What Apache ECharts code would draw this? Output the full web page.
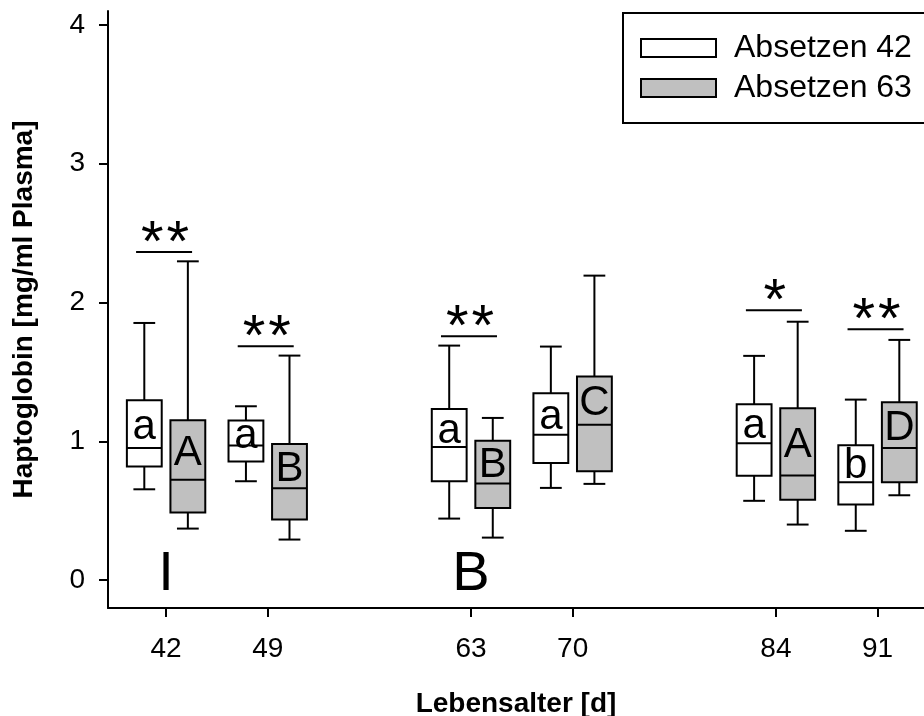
<!DOCTYPE html>
<html>
<head>
<meta charset="utf-8">
<script src="https://cdn.jsdelivr.net/npm/echarts@6/dist/echarts.min.js"></script>
<style>
html, body { margin: 0; padding: 0; background: #fff; }
#main { width: 924px; height: 716px; }
</style>
</head>
<body>
<div id="main"></div>
<script>
// Lebensalter in Tagen
var days = [42, 49, 63, 70, 84, 91];
// je Termin: [min, Q1, Median, Q3, max]
var absetzen42 = [
    [0.655, 0.819, 0.953, 1.296, 1.853],
    [0.713, 0.855, 0.970, 1.150, 1.253],
    [0.444, 0.713, 0.960, 1.234, 1.690],
    [0.665, 0.845, 1.047, 1.346, 1.683],
    [0.572, 0.752, 0.986, 1.267, 1.616],
    [0.356, 0.545, 0.706, 0.972, 1.301]
];
var absetzen63 = [
    [0.372, 0.487, 0.723, 1.152, 2.297],
    [0.293, 0.437, 0.662, 0.982, 1.618],
    [0.307, 0.521, 0.696, 1.004, 1.169],
    [0.694, 0.785, 1.119, 1.467, 2.194],
    [0.401, 0.579, 0.754, 1.238, 1.862],
    [0.612, 0.706, 0.953, 1.282, 1.731]
];
var letters42 = ['a', 'a', 'a', 'a', 'a', 'b'];
var letters63 = ['A', 'B', 'B', 'C', 'A', 'D'];
// Signifikanz zwischen den Gruppen (Anzahl Sterne)
var sigStars = [2, 2, 2, 0, 1, 2];
var sigLevel = [2.364, 1.685, 1.757, null, 1.944, 1.807];
// Phasen-Beschriftung unten
var phaseDays = [42, 63];
var phaseLabels = ['I', 'B'];
var phaseLevel = [0.04, 0.04];
var xTicks = [42, 49, 63, 70, 84, 91];
var yTicks = [0, 1, 2, 3, 4];

var FONT = '"Liberation Sans", Arial, Helvetica, sans-serif';
var SHIFT = 1.5;   // Versatz der Boxen in Tagen
var BOX_W = 2.4;
var CAP_W = 1.5;

function boxRender(letters, fill, shift) {
    return function (params, api) {
        var d = api.value(0);
        var cx = api.coord([d + shift, 0])[0];
        var hw = api.size([BOX_W, 0])[0] / 2;
        var cw = api.size([CAP_W, 0])[0] / 2;
        var yMin = api.coord([d, api.value(1)])[1];
        var yQ1 = api.coord([d, api.value(2)])[1];
        var yMed = api.coord([d, api.value(3)])[1];
        var yQ3 = api.coord([d, api.value(4)])[1];
        var yMax = api.coord([d, api.value(5)])[1];
        var yTxt = api.coord([d, (api.value(3) + api.value(4)) / 2])[1] + 3;
        var ln = { stroke: '#000', lineWidth: 2 };
        return {
            type: 'group',
            children: [
                { type: 'line', shape: { x1: cx, y1: yQ3, x2: cx, y2: yMax }, style: ln },
                { type: 'line', shape: { x1: cx - cw, y1: yMax, x2: cx + cw, y2: yMax }, style: ln },
                { type: 'line', shape: { x1: cx, y1: yQ1, x2: cx, y2: yMin }, style: ln },
                { type: 'line', shape: { x1: cx - cw, y1: yMin, x2: cx + cw, y2: yMin }, style: ln },
                { type: 'rect', shape: { x: cx - hw, y: yQ3, width: hw * 2, height: yQ1 - yQ3 },
                  style: { fill: fill, stroke: '#000', lineWidth: 2 } },
                { type: 'line', shape: { x1: cx - hw, y1: yMed, x2: cx + hw, y2: yMed }, style: ln },
                { type: 'text', style: { text: letters[params.dataIndex], x: cx, y: yTxt,
                  align: 'center', verticalAlign: 'middle', font: '42px ' + FONT, fill: '#000' } }
            ]
        };
    };
}

var chart = echarts.init(document.getElementById('main'));
chart.setOption({
    backgroundColor: '#fff',
    animation: false,
    grid: { left: 108, right: 0, top: 11, bottom: 108, outerBoundsMode: 'none' },
    legend: {
        data: [
            { name: 'Absetzen 42', itemStyle: { color: '#fff', borderColor: '#000', borderWidth: 2 } },
            { name: 'Absetzen 63', itemStyle: { color: '#c0c0c0', borderColor: '#000', borderWidth: 2 } }
        ],
        orient: 'vertical',
        left: 623,
        top: 13,
        padding: [19, 40, 19, 17],
        itemWidth: 75,
        itemHeight: 18,
        itemGap: 8,
        icon: 'rect',
        borderColor: '#000',
        borderWidth: 2,
        textStyle: { fontSize: 32, color: '#000', fontFamily: FONT, padding: [0, 0, 0, 13] }
    },
    xAxis: {
        type: 'value',
        min: 38,
        max: 94.2,
        name: 'Lebensalter [d]',
        nameLocation: 'middle',
        nameGap: 82,
        nameTextStyle: { fontSize: 28, fontWeight: 'bold', color: '#000', fontFamily: FONT },
        axisLine: { onZero: false, lineStyle: { color: '#000', width: 2 } },
        axisTick: { customValues: xTicks, length: 9, lineStyle: { color: '#000', width: 2 } },
        axisLabel: { customValues: xTicks, fontSize: 28, margin: 27, color: '#000', fontFamily: FONT },
        splitLine: { show: false }
    },
    yAxis: {
        type: 'value',
        min: -0.2,
        max: 4.1,
        name: 'Haptoglobin [mg/ml Plasma]',
        nameLocation: 'middle',
        nameGap: 70,
        nameTextStyle: { fontSize: 28, fontWeight: 'bold', color: '#000', fontFamily: FONT },
        axisLine: { show: true, lineStyle: { color: '#000', width: 2 } },
        axisTick: { show: true, customValues: yTicks, length: 9, lineStyle: { color: '#000', width: 2 } },
        axisLabel: { customValues: yTicks, fontSize: 28, margin: 23, color: '#000', fontFamily: FONT },
        splitLine: { show: false }
    },
    series: [
        {
            name: 'Absetzen 42',
            type: 'custom',
            itemStyle: { color: '#fff', borderColor: '#000' },
            encode: { x: 0, y: [1, 2, 3, 4, 5] },
            renderItem: boxRender(letters42, '#fff', -SHIFT),
            data: days.map(function (d, i) { return [d].concat(absetzen42[i]); })
        },
        {
            name: 'Absetzen 63',
            type: 'custom',
            itemStyle: { color: '#c0c0c0', borderColor: '#000' },
            encode: { x: 0, y: [1, 2, 3, 4, 5] },
            renderItem: boxRender(letters63, '#c0c0c0', SHIFT),
            data: days.map(function (d, i) { return [d].concat(absetzen63[i]); })
        },
        {
            // Signifikanzbalken mit Sternen
            name: 'sig',
            type: 'custom',
            encode: { x: 0, y: 1 },
            renderItem: function (params, api) {
                var n = sigStars[params.dataIndex];
                if (!n) return null;
                var p = api.coord([api.value(0), api.value(1)]);
                var kids = [{ type: 'line', shape: { x1: p[0] - 30, y1: p[1], x2: p[0] + 26, y2: p[1] },
                              style: { stroke: '#000', lineWidth: 2 } }];
                for (var k = 0; k < n; k++) {
                    kids.push({ type: 'text', style: { text: '*', x: p[0] - 1 + (k - (n - 1) / 2) * 25.5,
                        y: p[1] - 7, align: 'center', verticalAlign: 'middle',
                        font: '58px ' + FONT, fill: '#000' } });
                }
                return { type: 'group', children: kids };
            },
            data: days.map(function (d, i) { return [d, sigLevel[i] == null ? 0 : sigLevel[i]]; })
        },
        {
            name: 'phase',
            type: 'custom',
            encode: { x: 0, y: 1 },
            renderItem: function (params, api) {
                var p = api.coord([api.value(0), api.value(1)]);
                return { type: 'text', style: { text: phaseLabels[params.dataIndex], x: p[0], y: p[1],
                    align: 'center', verticalAlign: 'middle', font: '56px ' + FONT, fill: '#000' } };
            },
            data: phaseDays.map(function (d, i) { return [d, phaseLevel[i]]; })
        }
    ]
});
</script>
</body>
</html>
